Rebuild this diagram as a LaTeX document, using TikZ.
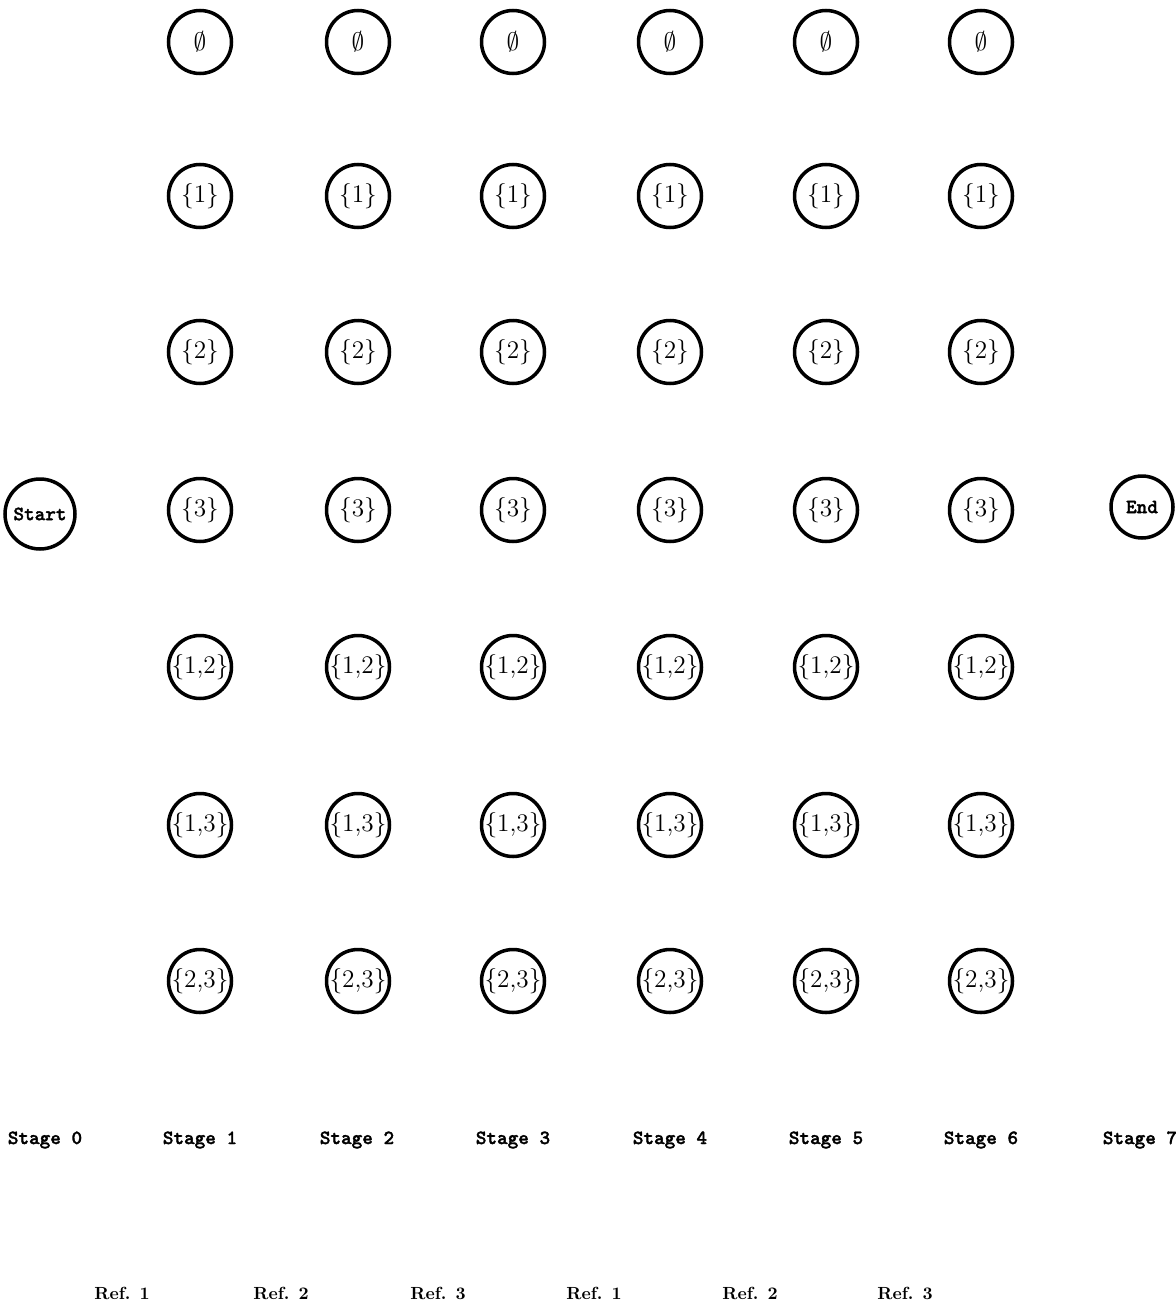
\documentclass[tikz,border=0pt]{standalone}
\usepackage{fontspec}
\newfontfamily\slabfont{lmmonolt10-bold.otf}[FakeBold=1.6]
\tikzset{
  state/.style={circle, draw, line width=2pt, minimum size=1.26cm, inner sep=0pt, font=\Large},
  term/.style={circle, draw, line width=2pt, inner sep=0pt, font=\fontsize{11.5}{13}\selectfont\slabfont},
  stagelab/.style={font=\fontsize{11.5}{13}\selectfont\slabfont},
  reflab/.style={font=\bfseries}
}
\begin{document}
\begin{tikzpicture}[x=0.02cm, y=-0.02cm]
  \useasboundingbox (0,0) rectangle (1176,1308);
  % state grid
  \foreach \c/\x in {1/200,2/358,3/513,4/670,5/826,6/981} {
    \foreach \r/\y/\lab in {0/42/{$\emptyset$},1/196/{\{1\}},2/352/{\{2\}},3/510/{\{3\}},4/667/{\{1,2\}},5/825/{\{1,3\}},6/981/{\{2,3\}}}
      \node[state] (s\c-\r) at (\x,\y) {\lab};
  }
  % start and end
  \node[term, minimum size=1.4cm] (start) at (40,514) {Start};
  \node[term, minimum size=1.24cm] (end) at (1142,507) {End};
  % stages
  \foreach \i/\x in {0/45,1/200,2/357,3/513,4/670,5/826,6/981,7/1140}
    \node[stagelab] (stage\i) at (\x,1140) {Stage \i};
  % references
  \foreach \i/\x/\n in {1/122/1,2/281/2,3/438/3,4/594/1,5/750/2,6/905/3}
    \node[reflab] (ref\i) at (\x,1293) {Ref. \n};
\end{tikzpicture}
\end{document}
